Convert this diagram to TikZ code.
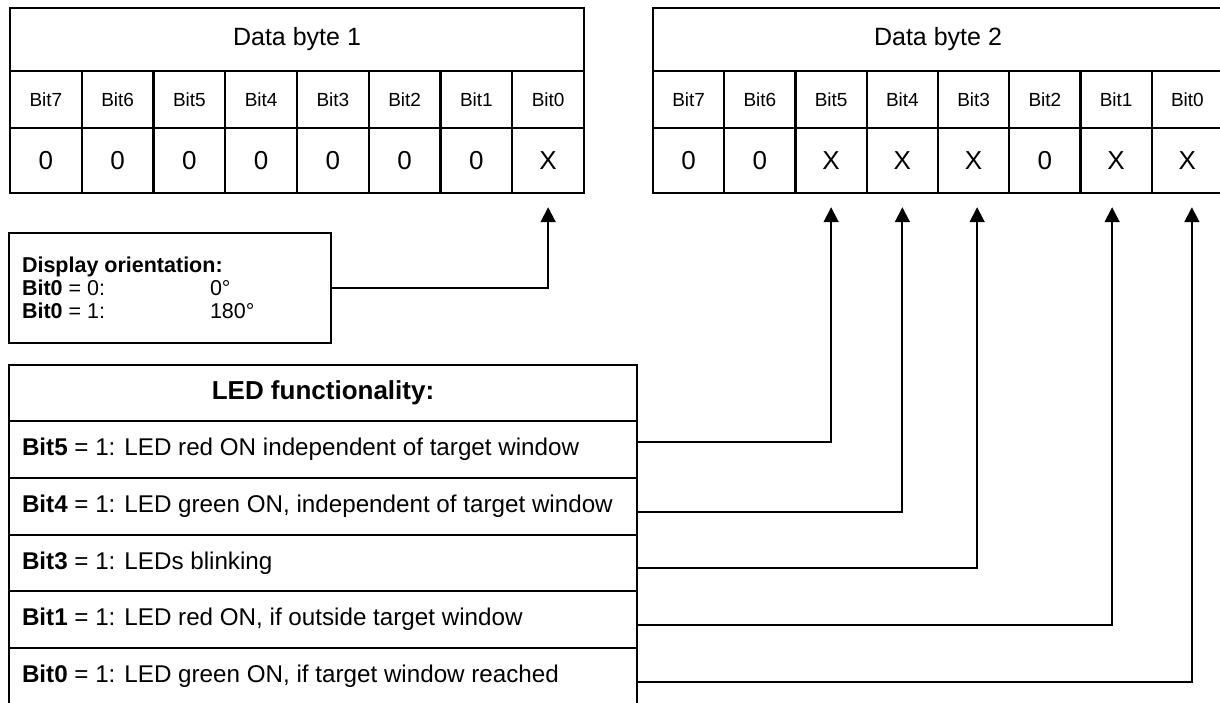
\documentclass[tikz,border=0pt]{standalone}
\usepackage{fontspec}
\setmainfont{Liberation Sans}
\usetikzlibrary{arrows.meta}
\newcommand\ledrowfont{\fontsize{24.2}{27}\selectfont}
\begin{document}
\begin{tikzpicture}[x=1pt,y=-1pt,
  frame/.style={draw, line width=2.4pt, inner sep=0pt},
  headcell/.style={frame, minimum width=#1, minimum height=63pt, font=\fontsize{25}{28}\selectfont},
  bitcell/.style={frame, minimum width=#1, minimum height=57pt, font=\fontsize{19}{22}\selectfont},
  valcell/.style={frame, minimum width=#1, minimum height=65pt, font=\fontsize{26}{29}\selectfont},
  ledrow/.style={frame, minimum width=628pt, minimum height=#1},
  conn/.style={draw, line width=1.8pt, -{Triangle[length=15pt,width=15pt]}}]
\fill[white] (0,0) rectangle (1220,702);
\useasboundingbox (0,0) rectangle (1220,702);

% ---- Data byte 1 ----
\node[headcell=574pt] (b1h) at (297,39.5) {Data byte 1};
\foreach \b/\v [count=\i from 0] in {7/0,6/0,5/0,4/0,3/0,2/0,1/0,0/X}{
  \node[bitcell=71.75pt] (b1n\b) at ({10+71.75*(\i+0.5)},99.5) {Bit\b};
  \node[valcell=71.75pt] (b1v\b) at ({10+71.75*(\i+0.5)},160.5) {\v};
}

% ---- Data byte 2 ----
\node[headcell=570pt] (b2h) at (938,39.5) {Data byte 2};
\foreach \b/\v [count=\i from 0] in {7/0,6/0,5/X,4/X,3/X,2/0,1/X,0/X}{
  \node[bitcell=71.25pt] (b2n\b) at ({653+71.25*(\i+0.5)},99.5) {Bit\b};
  \node[valcell=71.25pt] (b2v\b) at ({653+71.25*(\i+0.5)},160.5) {\v};
}

% ---- Display orientation ----
\node[frame, minimum width=322pt, minimum height=110pt] (disp) at (170,288)
  {\parbox{296pt}{\fontsize{21.5}{23}\selectfont
   \textbf{Display orientation:}\\
   \makebox[188pt][l]{\textbf{Bit0} = 0:}0°\\
   \makebox[188pt][l]{\textbf{Bit0} = 1:}180°}};

% ---- LED functionality ----
\node[ledrow=56pt, font=\bfseries\fontsize{26}{29}\selectfont] (ledh) at (323,393) {LED functionality:};
\node[ledrow=57pt] (led5) at (323,449.5)
  {\parbox{602pt}{\ledrowfont\textbf{Bit5} = 1: LED red ON independent of target window}};
\node[ledrow=57pt] (led4) at (323,506.5)
  {\parbox{602pt}{\ledrowfont\textbf{Bit4} = 1: LED green ON, independent of target window}};
\node[ledrow=56pt] (led3) at (323,563)
  {\parbox{602pt}{\ledrowfont\textbf{Bit3} = 1: LEDs blinking}};
\node[ledrow=57pt] (led1) at (323,619.5)
  {\parbox{602pt}{\ledrowfont\textbf{Bit1} = 1: LED red ON, if outside target window}};
\node[ledrow=57pt] (led0) at (323,676.5)
  {\parbox{602pt}{\ledrowfont\textbf{Bit0} = 1: LED green ON, if target window reached}};

% ---- Connectors ----
\draw[conn] (disp.east) -| ([yshift=-13pt]b1v0.south);
\draw[conn] ([yshift=7.5pt]led5.east) -| ([yshift=-13pt]b2v5.south);
\draw[conn] ([yshift=-5.5pt]led4.east) -| ([yshift=-13pt]b2v4.south);
\draw[conn] ([yshift=-5pt]led3.east) -| ([xshift=3.5pt,yshift=-13pt]b2v3.south);
\draw[conn] ([yshift=-5.5pt]led1.east) -| ([xshift=-4pt,yshift=-13pt]b2v1.south);
\draw[conn] ([yshift=-5.5pt]led0.east) -| ([xshift=4.5pt,yshift=-13pt]b2v0.south);
\end{tikzpicture}
\end{document}
